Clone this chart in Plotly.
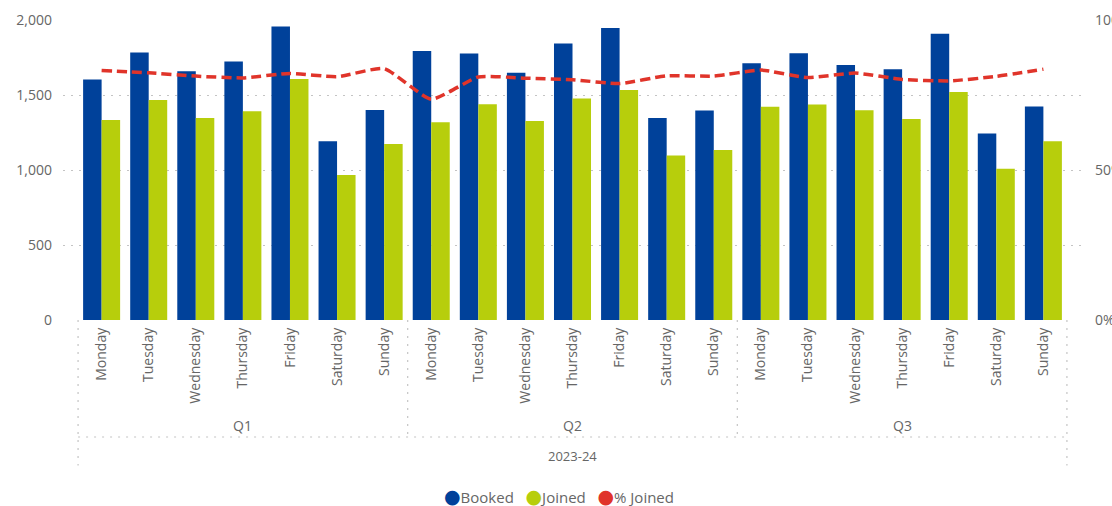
import plotly.graph_objects as go

# Weekly attendance by quarter, FY 2023-24
year_label = "2023-24"
quarters = ["Q1", "Q2", "Q3"]
days = ["Monday", "Tuesday", "Wednesday", "Thursday", "Friday", "Saturday", "Sunday"]

booked_q1 = [1604, 1784, 1658, 1724, 1956, 1191, 1400]
booked_q2 = [1793, 1776, 1649, 1844, 1947, 1347, 1396]
booked_q3 = [1711, 1778, 1700, 1671, 1909, 1244, 1424]

joined_q1 = [1333, 1467, 1347, 1391, 1607, 967, 1173]
joined_q2 = [1318, 1438, 1327, 1476, 1533, 1096, 1133]
joined_q3 = [1422, 1436, 1398, 1340, 1520, 1009, 1191]

pct_joined_q1 = [83.2, 82.4, 81.3, 80.7, 82.2, 81.1, 83.8]
pct_joined_q2 = [73.6, 81.0, 80.6, 80.1, 78.8, 81.4, 81.3]
pct_joined_q3 = [83.3, 80.8, 82.3, 80.2, 79.7, 81.2, 83.6]

left_ticks = [0, 500, 1000, 1500, 2000]
right_ticks = [0, 50, 100]

booked = booked_q1 + booked_q2 + booked_q3
joined = joined_q1 + joined_q2 + joined_q3
pct_joined = pct_joined_q1 + pct_joined_q2 + pct_joined_q3
day_labels = days * len(quarters)
x = list(range(len(day_labels)))

BLUE = "#00419A"
LIME = "#B7CE0C"
RED = "#E0342A"
TEXT = "#666666"
GRID = "#C4C4C4"
FONT = "Open Sans"

fig = go.Figure()
fig.add_trace(go.Bar(x=x, y=booked, name="Booked", marker_color=BLUE,
                     marker_line_width=0, showlegend=False))
fig.add_trace(go.Bar(x=x, y=joined, name="Joined", marker_color=LIME,
                     marker_line_width=0, showlegend=False))
fig.add_trace(go.Scatter(x=x, y=pct_joined, name="% Joined", yaxis="y2",
                         mode="lines", line=dict(color=RED, width=3.5, dash="10px,5px",
                                                 shape="spline", smoothing=0.5),
                         showlegend=False))

n = len(day_labels)
per_q = len(days)
bottom_deep = -0.485
bottom_q = -0.39
dot_line = dict(color=GRID, width=1.2, dash="2px,6px")

shapes = []
# outer boundaries of the category axis (span quarter and year rows)
for xb in (-0.5, n - 0.5):
    shapes.append(dict(type="line", xref="x", yref="paper", x0=xb, x1=xb,
                       y0=0, y1=bottom_deep, line=dot_line))
# dividers between quarters
for qi in range(1, len(quarters)):
    xb = qi * per_q - 0.5
    shapes.append(dict(type="line", xref="x", yref="paper", x0=xb, x1=xb,
                       y0=0, y1=bottom_q, line=dot_line))
# row separator between quarter and year levels
shapes.append(dict(type="line", xref="x", yref="paper", x0=-0.5, x1=n - 0.5,
                   y0=bottom_q, y1=bottom_q, line=dot_line))

annotations = []
for qi, q in enumerate(quarters):
    annotations.append(dict(x=qi * per_q + (per_q - 1) / 2, y=-0.35, xref="x", yref="paper",
                            text=q, showarrow=False, yanchor="middle",
                            font=dict(family=FONT, size=14, color=TEXT)))
annotations.append(dict(x=(n - 1) / 2, y=-0.453, xref="x", yref="paper",
                        text=year_label, showarrow=False, yanchor="middle",
                        font=dict(family=FONT, size=13, color=TEXT)))

# legend drawn as a single centred line of coloured dots and names
legend_items = [("Booked", BLUE), ("Joined", LIME), ("% Joined", RED)]
legend_text = "&nbsp;&nbsp;&nbsp;".join(
    f'<span style="color:{c};font-size:19px;font-family:DejaVu Sans">●</span>{name}'
    for name, c in legend_items)
annotations.append(dict(x=0.487, y=-0.585, xref="paper", yref="paper", text=legend_text,
                        showarrow=False, xanchor="center", yanchor="middle",
                        font=dict(family=FONT, size=15, color=TEXT)))

fig.update_layout(
    width=1112, height=506,
    margin=dict(l=63, r=30, t=20, b=186),
    paper_bgcolor="white", plot_bgcolor="white",
    barmode="group", bargap=0.214, bargroupgap=0,
    font=dict(family=FONT, color=TEXT),
    shapes=shapes, annotations=annotations,
    xaxis=dict(range=[-0.82, n - 1 + 0.82], tickmode="array", tickvals=x,
               ticktext=day_labels, tickangle=-90, showgrid=False, zeroline=False,
               showline=False, ticks="", ticklabelstandoff=4, automargin=False,
               tickfont=dict(family=FONT, size=14, color=TEXT)),
    yaxis=dict(range=[0, 2000], tickvals=left_ticks,
               ticktext=[f"{v:,}" for v in left_ticks],
               showgrid=True, gridcolor=GRID, gridwidth=1.2, griddash="2px,6px",
               zeroline=False, showline=False, ticks="", ticklabelstandoff=10,
               automargin=False, tickfont=dict(family=FONT, size=14, color=TEXT)),
    yaxis2=dict(range=[0, 100], overlaying="y", side="right", tickvals=right_ticks,
                ticktext=[f"{v}%" for v in right_ticks], showgrid=False,
                zeroline=False, showline=False, ticks="", ticklabelstandoff=12,
                automargin=False, tickfont=dict(family=FONT, size=14, color=TEXT)),
)

fig.write_html("out.html")
